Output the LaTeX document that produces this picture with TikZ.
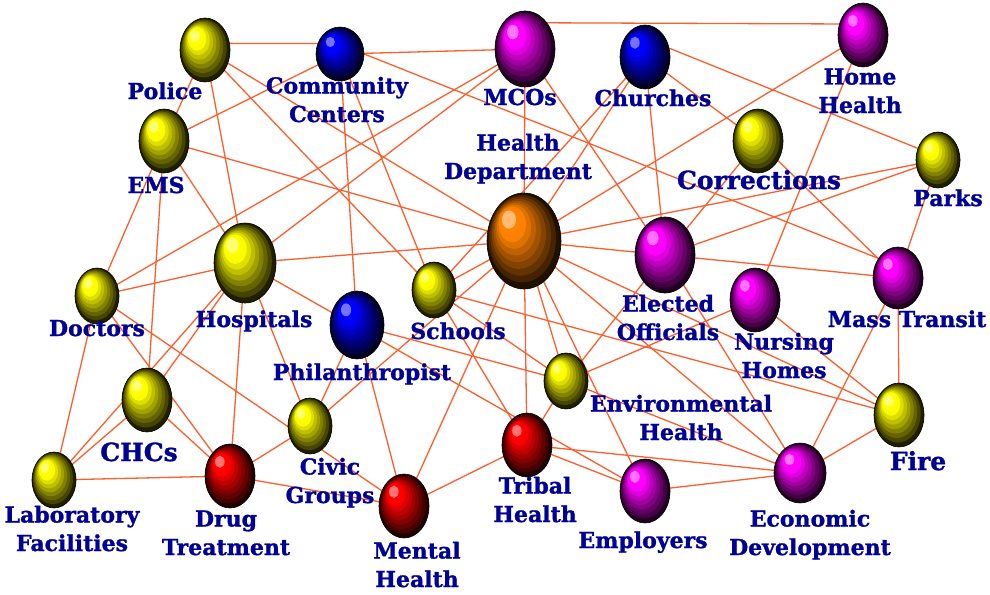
\documentclass[tikz,border=0pt]{standalone}
\usepackage{fontspec}
\setmainfont{DejaVu Serif}[BoldFeatures={FakeBold=1.2}]
\usetikzlibrary{shapes.geometric}
\pgfdeclarelayer{bg}
\pgfsetlayers{bg,main}
\definecolor{edgec}{RGB}{250,95,45}
\definecolor{labc}{RGB}{0,0,150}
\definecolor{oyel}{RGB}{255,255,0}
\definecolor{oblu}{RGB}{0,0,255}
\definecolor{omag}{RGB}{255,0,255}
\definecolor{ored}{RGB}{255,0,0}
\definecolor{oorg}{RGB}{255,130,0}
\tikzset{
  orbshape/.style={ellipse, inner sep=0pt, draw=none},
  link/.style={draw=edgec, line width=1.3pt},
  lab/.style={font=\bfseries\fontsize{22}{28.5}\selectfont, text=labc, align=center, inner sep=0pt, anchor=base},
  biglab/.style={lab, font=\bfseries\fontsize{25}{30}\selectfont}
}
\newcommand\orb[6]{%
  \node[orbshape, minimum width=#4*2pt, minimum height=#5*2pt] (#1) at (#2,#3) {};
  \fill[#6!12!black, draw=black, line width=0.6pt] (#2,#3) ellipse [x radius=#4pt, y radius=#5pt];
  \foreach \k in {1,...,9}{%
    \pgfmathsetmacro\s{1-0.09*\k}%
    \pgfmathsetmacro\cx{#2-(1-\s)*0.5*#4}%
    \pgfmathsetmacro\cy{#3-(1-\s)*0.55*#5}%
    \pgfmathsetmacro\rx{\s*#4}%
    \pgfmathsetmacro\ry{\s*#5}%
    \pgfmathtruncatemacro\p{min(100,15+\k*12)}%
    \ifnum\k<9 \fill[#6!\p!black] (\cx,\cy) ellipse [x radius=\rx pt, y radius=\ry pt];%
    \else \fill[#6!55!white] (\cx,\cy) ellipse [x radius=\rx pt, y radius=\ry pt];\fi
  }%
}
\begin{document}
\begin{tikzpicture}[x=1pt, y=-1pt]
\useasboundingbox (0,0) rectangle (990,594);
\begin{pgfonlayer}{bg}
\fill[white] (0,0) rectangle (990,594);
\end{pgfonlayer}
% spheres
\orb{Pol}{205}{50}{25}{32}{oyel}
\orb{CC}{340}{54}{24}{27}{oblu}
\orb{MCO}{525}{49}{30}{38}{omag}
\orb{Ch}{645}{57}{25}{32}{oblu}
\orb{HH}{863}{35}{25}{32}{omag}
\orb{Cor}{758}{141}{25}{32}{oyel}
\orb{Pk}{938}{160}{22}{28}{oyel}
\orb{EMS}{164}{141}{25}{32}{oyel}
\orb{HD}{524}{241}{37}{48}{oorg}
\orb{EO}{665}{255}{30}{38}{omag}
\orb{MT}{898}{278}{25}{31}{omag}
\orb{NH}{755}{300}{25}{32}{omag}
\orb{Doc}{97}{296}{22}{28}{oyel}
\orb{Hos}{245}{263}{31}{40}{oyel}
\orb{Phil}{357}{325}{27}{34}{oblu}
\orb{Sch}{434}{290}{22}{28}{oyel}
\orb{CHC}{147}{400}{25}{32}{oyel}
\orb{Lab}{54}{480}{22}{28}{oyel}
\orb{DT}{230}{476}{25}{32}{ored}
\orb{CG}{310}{426}{22}{28}{oyel}
\orb{MH}{404}{506}{25}{32}{ored}
\orb{EH}{566}{381}{22}{28}{oyel}
\orb{TH}{527}{445}{25}{32}{ored}
\orb{Emp}{645}{491}{25}{32}{omag}
\orb{ED}{800}{473}{26}{30}{omag}
\orb{Fire}{899}{415}{25}{32}{oyel}
% connectors
\begin{pgfonlayer}{bg}
\draw[link] (Pol.15) -- (CC.155);
\draw[link] (MCO.50) -- (HH.155);
\draw[link] (Ch.20) -- (Pk.150);
\draw[link] (CC.0) -- (MT.135);
\draw[link] (Pol.-30) -- (HD.150);
\foreach \a/\b in {Pol/EMS, Pol/Hos, Pol/Sch,
  EMS/CC, EMS/HD, EMS/Doc, EMS/CHC, EMS/Hos,
  CC/MCO, CC/Sch, CC/Phil,
  MCO/Doc, MCO/Hos, MCO/HD, MCO/EO,
  Ch/Sch, Ch/HD, Ch/EO, Ch/Cor,
  HH/HD, HH/NH, Cor/EO, Cor/MT, Pk/HD, Pk/EO, Pk/MT,
  HD/Hos, HD/Sch, HD/EO, HD/EH, HD/TH, HD/Emp, HD/ED, HD/MH, HD/Fire, HD/CG,
  EO/MT, EO/ED, EO/EH, NH/EH, NH/Fire, MT/Fire, MT/ED, Fire/ED,
  Doc/Hos, Doc/Lab, Doc/DT, Doc/MH,
  Hos/Lab, Hos/CHC, Hos/DT, Hos/CG, Hos/Emp,
  CHC/Lab, CHC/DT, Lab/DT, DT/CG, DT/MH, CG/Phil,
  Phil/MH, Phil/EH, EH/ED, EH/TH, Sch/EH, Sch/Fire, Sch/TH,
  TH/MH, TH/Emp, TH/ED, Emp/ED}
  \draw[link] (\a.center) -- (\b.center);
\end{pgfonlayer}
% labels (base = baseline of the last line)
\node[lab] (lPol) at (165,99) {Police};
\node[lab] (lCC) at (337,122) {Community\\Centers};
\node[lab] (lMCO) at (520,105) {MCOs};
\node[lab] (lHD) at (518,179) {Health\\Department};
\node[lab] (lCh) at (653,106) {Churches};
\node[lab] (lHH) at (860,113) {Home\\Health};
\node[biglab] (lCor) at (759,189) {Corrections};
\node[lab] (lPk) at (948,206) {Parks};
\node[lab] (lEMS) at (156,193) {EMS};
\node[lab] (lDoc) at (97,336) {Doctors};
\node[lab] (lHos) at (254,327) {Hospitals};
\node[lab] (lSch) at (458,339) {Schools};
\node[lab] (lPhil) at (362,380) {Philanthropist};
\node[lab] (lEO) at (668,340) {Elected\\Officials};
\node[lab] (lMT) at (907,327) {Mass Transit};
\node[lab] (lNH) at (784,378) {Nursing\\Homes};
\node[lab] (lEH) at (681,440) {Environmental\\Health};
\node[biglab] (lCHC) at (139,461) {CHCs};
\node[biglab] (lFire) at (918,470) {Fire};
\node[lab] (lCG) at (330,503) {Civic\\Groups};
\node[lab] (lLab) at (72,551) {Laboratory\\Facilities};
\node[lab] (lDT) at (226,555) {Drug\\Treatment};
\node[lab] (lMH) at (417,587) {Mental\\Health};
\node[lab] (lTH) at (535,522) {Tribal\\Health};
\node[lab] (lEmp) at (643,548) {Employers};
\node[lab] (lED) at (810,555) {Economic\\Development};
\end{tikzpicture}
\end{document}
